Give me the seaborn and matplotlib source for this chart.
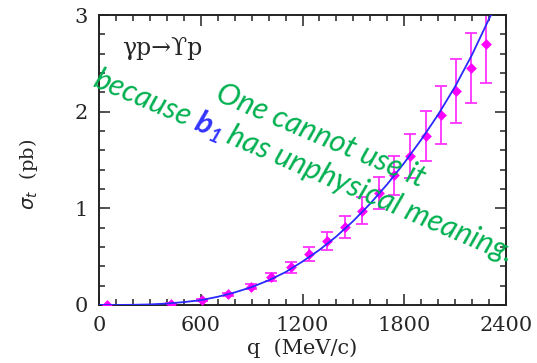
import numpy as np
import pandas as pd
import matplotlib
matplotlib.use("Agg")
import matplotlib.pyplot as plt
import seaborn as sns
from matplotlib.ticker import MultipleLocator

# measured points (q in MeV/c, sigma in pb)
q_pts = [49, 425, 609, 761, 894, 1016, 1130, 1240, 1346, 1450, 1551, 1649,
         1739, 1836, 1928, 2017, 2107, 2193, 2282]
sigma_pts = [0.0, 0.013, 0.05, 0.11, 0.19, 0.29, 0.39, 0.53, 0.66, 0.81, 0.975,
             1.16, 1.34, 1.54, 1.75, 1.97, 2.21, 2.45, 2.70]
sigma_err = [0.0, 0.005, 0.01, 0.015, 0.025, 0.04, 0.06, 0.07, 0.095, 0.115,
             0.14, 0.165, 0.20, 0.23, 0.26, 0.30, 0.33, 0.365, 0.40]

# fitted curve
q_fit = [0, 100, 200, 300, 400, 500, 600, 700, 800, 900, 1000, 1100, 1200,
         1300, 1400, 1500, 1600, 1700, 1800, 1900, 2000, 2100, 2200, 2300, 2320]
sigma_fit = [0.0, 0.0, 0.002, 0.006, 0.015, 0.03, 0.05, 0.085, 0.13, 0.185,
             0.255, 0.34, 0.45, 0.57, 0.71, 0.87, 1.05, 1.25, 1.47, 1.71,
             1.97, 2.26, 2.59, 2.96, 3.03]

x_ticks = [0, 600, 1200, 1800, 2400]
y_ticks = [0, 1, 2, 3]

pts = pd.DataFrame({"q": q_pts, "sigma": sigma_pts, "err": sigma_err})
fit = pd.DataFrame({"q": q_fit, "sigma": sigma_fit})

sns.set_theme(style="ticks")
plt.rcParams["font.family"] = ["DejaVu Serif"]

W, H = 537, 363
fig = plt.figure(figsize=(W / 100, H / 100), dpi=100)
ax = fig.add_axes([99 / W, 58 / H, 407 / W, 290 / H])

magenta = "#ff00ff"
ax.errorbar(pts["q"], pts["sigma"], yerr=pts["err"], fmt="none",
            ecolor="#ff33ff", elinewidth=1.3, capsize=4, capthick=1.3, zorder=2)
sns.scatterplot(data=pts, x="q", y="sigma", marker="D", s=30, color=magenta,
                edgecolor=magenta, linewidth=0, ax=ax, zorder=3)
sns.lineplot(data=fit, x="q", y="sigma", color="#2a2aff", linewidth=1.3,
             ax=ax, zorder=4)

ax.set_xlim(0, 2400)
ax.set_ylim(0, 3)
ax.set_xticks(x_ticks)
ax.set_yticks(y_ticks)
ax.xaxis.set_minor_locator(MultipleLocator(100))
ax.yaxis.set_minor_locator(MultipleLocator(0.2))
ax.tick_params(which="both", direction="in", top=True, right=True,
               color="#222222", width=1.1)
ax.tick_params(which="major", length=8, labelsize=15, pad=8)
ax.tick_params(which="minor", length=4)
for sp in ax.spines.values():
    sp.set_linewidth(1.4)
    sp.set_color("#222222")

ax.set_xlabel("q  (MeV/c)", fontsize=15)
ax.set_ylabel(r"$\sigma_t$  (pb)", fontsize=14)
ax.xaxis.set_label_coords(0.5, -0.115)
ax.yaxis.set_label_coords(-0.145, 0.45)

ax.text((122 - 99) / 407, (305 - 55) / 290, "γp→ϒp", transform=ax.transAxes,
        fontsize=17, ha="left", va="baseline", family=["DejaVu Serif"])

# rotated annotation, built piece by piece
green = "#00b050"
blue = "#3333ff"
fs = 22
ang = -23
a = np.radians(ang)
u = np.array([np.cos(a), np.sin(a)])
v = np.array([-np.sin(a), np.cos(a)])
renderer = fig.canvas.get_renderer()
base = dict(family=["Lato", "DejaVu Sans"], style="italic")


def width(s, **kw):
    t = fig.text(0, 0, s, **kw)
    w = t.get_window_extent(renderer).width
    t.remove()
    return w


def run(pieces, start):
    x0, y0 = start[0], H - start[1]
    pos = 0.0
    for s, kw, shift in pieces:
        if s == " ":
            pos += width("n n", **kw) - width("nn", **kw)
            continue
        p = np.array([x0, y0]) + pos * u + shift * v
        fig.text(p[0] / W, p[1] / H, s, rotation=ang, rotation_mode="anchor",
                 ha="left", va="baseline", **kw)
        pos += width(s, **kw)


g = dict(base, color=green, fontsize=fs)
b = dict(base, color=blue, fontsize=fs, weight="bold")
bs = dict(base, color=blue, fontsize=fs * 0.65, weight="bold")

run([("One cannot use it", g, 0)], (214, 100))
run([("because", g, 0), (" ", g, 0), ("b", b, 0), ("1", bs, -5),
     (" ", g, 0), ("has unphysical meaning.", g, 0)], (91, 86))

fig.savefig("out.png", dpi=100)
